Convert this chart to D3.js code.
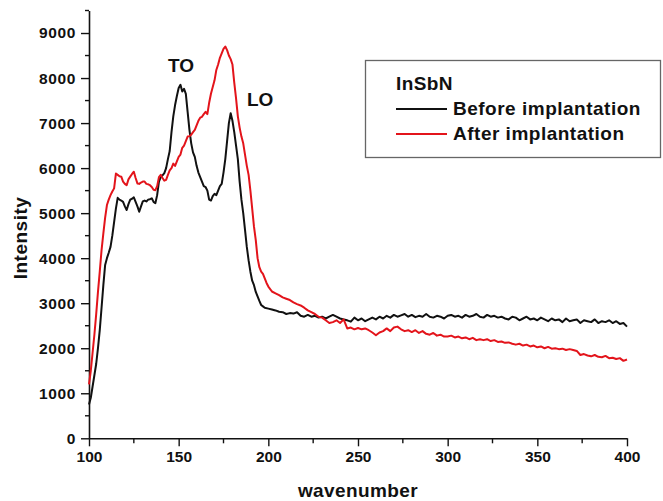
<!DOCTYPE html>
<html lang="en">
<head>
<meta charset="utf-8">
<title>InSbN Raman spectra</title>
<script src="https://cdn.jsdelivr.net/npm/d3@7"></script>
<style>
  body { margin: 0; background: #fff; }
  svg text { font-family: "Liberation Sans", Arial, sans-serif; font-weight: bold; fill: #111; }
</style>
</head>
<body>
<script>
// wavenumber / intensity
// 1 step from 100 to 198/199, then 2 steps to 400
const beforeX = d3.range(100, 199).concat(d3.range(200, 401, 2));
const beforeY = [
  750,900,1150,1400,1650,2000,2400,2900,3400,3850,      // 100-109
  4000,4120,4250,4500,4800,5100,5340,5300,5280,5250,    // 110-119
  5150,5070,5200,5300,5320,5350,5250,5150,5030,5150,    // 120-129
  5260,5280,5260,5300,5310,5330,5250,5220,5400,5700,    // 130-139
  5800,5840,5890,6000,6200,6380,6800,7150,7400,7600,    // 140-149
  7780,7850,7700,7760,7650,7250,6850,6550,6350,6250,    // 150-159
  6050,5900,5800,5700,5600,5580,5500,5300,5280,5380,    // 160-169
  5430,5400,5500,5600,5650,5900,6200,6600,7000,7220,    // 170-179
  7050,6800,6500,6200,5700,5300,5000,4630,4250,3950,    // 180-189
  3700,3500,3400,3250,3150,3050,2960,2930,2900,         // 190-198
  2880,2860,2840,2810,2800,2760,2780,2770,2800,2720,    // 200-218
  2700,2740,2700,2720,2680,2700,2660,2700,2740,2700,    // 220-238
  2660,2640,2620,2590,2680,2620,2660,2600,2640,2680,    // 240-258
  2640,2700,2660,2720,2680,2740,2700,2730,2760,2700,    // 260-278
  2740,2690,2720,2700,2760,2700,2680,2720,2700,2660,    // 280-298
  2720,2740,2700,2720,2680,2740,2700,2720,2760,2700,    // 300-318
  2680,2740,2700,2720,2680,2700,2660,2640,2700,2680,    // 320-338
  2620,2660,2700,2640,2660,2620,2680,2640,2600,2660,    // 340-358
  2620,2640,2580,2660,2600,2620,2640,2560,2620,2600,    // 360-378
  2580,2640,2560,2600,2580,2620,2560,2600,2540,2560,    // 380-398
  2480                                                  // 400
];

const afterX = d3.range(100, 200).concat(d3.range(200, 401, 2));
const afterY = [
  1200,1500,1900,2300,2750,3250,3700,4180,4550,4900,    // 100-109
  5180,5300,5400,5480,5550,5880,5850,5820,5810,5700,    // 110-119
  5650,5620,5750,5810,5870,5920,5780,5660,5650,5680,    // 120-129
  5700,5700,5650,5640,5620,5580,5520,5510,5600,5800,    // 130-139
  5850,5780,5720,5740,5850,5950,6000,6100,6050,6150,    // 140-149
  6250,6300,6450,6500,6600,6700,6710,6740,6800,6850,    // 150-159
  6950,7050,7120,7140,7200,7250,7200,7450,7650,7800,    // 160-169
  7950,8180,8300,8450,8550,8650,8700,8620,8500,8420,    // 170-179
  8300,7900,7550,7150,6900,6700,6550,6300,6050,5850,    // 180-189
  5500,5100,4700,4400,4000,3800,3700,3650,3550,3450,    // 190-199
  3370,3260,3220,3180,3130,3100,3070,3020,2980,2950,    // 200-218
  2900,2840,2800,2760,2700,2680,2620,2560,2580,2620,    // 220-238
  2560,2640,2440,2460,2420,2450,2420,2440,2400,2350,    // 240-258
  2290,2350,2380,2440,2380,2460,2480,2420,2380,2400,    // 260-278
  2360,2400,2340,2380,2320,2300,2340,2280,2300,2260,    // 280-298
  2260,2280,2240,2260,2220,2240,2200,2230,2180,2200,    // 300-318
  2180,2200,2160,2180,2140,2150,2120,2130,2100,2080,    // 320-338
  2100,2060,2080,2040,2060,2020,2040,2000,2030,1990,    // 340-358
  2000,1980,1990,1960,1980,1960,1940,1850,1870,1840,    // 360-378
  1820,1850,1810,1800,1830,1780,1790,1760,1780,1720,    // 380-398
  1750                                                  // 400
];

const xTicks = [100,150,200,250,300,350,400];
const yTicks = [0,1000,2000,3000,4000,5000,6000,7000,8000,9000];
const seriesNames = ["Before implantation","After implantation"];
const seriesColors = ["#111111","#e3141b"];

const width = 663, height = 501;
const svg = d3.select("body").append("svg")
    .attr("width", width)
    .attr("height", height);

const x = d3.scaleLinear().domain([100, 400]).range([89, 627]);
const y = d3.scaleLinear().domain([0, 9500]).range([438.3, 10.5]);

// minor ticks
const xMinor = d3.range(125, 400, 50);
const yMinor = d3.range(500, 9501, 1000);

const xAxis = svg.append("g")
    .attr("transform", "translate(0," + y(0) + ")")
    .call(d3.axisBottom(x).tickValues(xTicks).tickFormat(d3.format("d"))
        .tickSize(8).tickPadding(5).tickSizeOuter(0));
xAxis.append("g").selectAll("line").data(xMinor).enter().append("line")
    .attr("x1", d => x(d)).attr("x2", d => x(d))
    .attr("y1", 0).attr("y2", 5);
xAxis.selectAll(".tick text").style("font-size", "15.5px");

const yAxis = svg.append("g")
    .attr("transform", "translate(" + x(100) + ",0)")
    .call(d3.axisLeft(y).tickValues(yTicks).tickFormat(d3.format("d"))
        .tickSize(8).tickPadding(5).tickSizeOuter(0));
yAxis.append("g").selectAll("line").data(yMinor).enter().append("line")
    .attr("x1", 0).attr("x2", -4)
    .attr("y1", d => y(d)).attr("y2", d => y(d));
yAxis.selectAll(".tick text").style("font-size", "15.5px").style("letter-spacing", "0.6px");

svg.selectAll(".domain").attr("stroke", "#111").attr("stroke-width", 1.6);
svg.selectAll(".tick line, g > g > line").attr("stroke", "#111").attr("stroke-width", 1.4);
svg.selectAll(".tick text").attr("fill", "#111");

// curves
const line = d3.line()
    .x(d => x(d[0]))
    .y(d => y(d[1]));

const seriesData = [
    d3.zip(beforeX, beforeY),
    d3.zip(afterX, afterY)
];

seriesData.forEach((pts, i) => {
    svg.append("path")
        .datum(pts)
        .attr("d", line)
        .attr("fill", "none")
        .attr("stroke", seriesColors[i])
        .attr("stroke-width", 2)
        .attr("stroke-linejoin", "round");
});

// axis titles
svg.append("text")
    .attr("x", x(250))
    .attr("y", 497)
    .attr("text-anchor", "middle")
    .style("font-size", "19px")
    .style("letter-spacing", "0.4px")
    .text("wavenumber");

svg.append("text")
    .attr("transform", "translate(27,238) rotate(-90)")
    .attr("text-anchor", "middle")
    .style("font-size", "19px")
    .style("letter-spacing", "0.5px")
    .text("Intensity");

// peak labels
svg.append("text").attr("x", 168).attr("y", 72).style("font-size", "19px").text("TO");
svg.append("text").attr("x", 247).attr("y", 106).style("font-size", "19px").text("LO");

// legend
const legend = svg.append("g");
legend.append("rect")
    .attr("x", 365.5).attr("y", 60.5)
    .attr("width", 295).attr("height", 97)
    .attr("fill", "none")
    .attr("stroke", "#666")
    .attr("stroke-width", 1.3);
legend.append("text").attr("x", 396).attr("y", 90)
    .style("font-size", "19px").style("letter-spacing", "0.4px").text("InSbN");
seriesNames.forEach((name, i) => {
    const ly = 109 + i * 25;
    legend.append("line")
        .attr("x1", 396).attr("x2", 447)
        .attr("y1", ly).attr("y2", ly)
        .attr("stroke", seriesColors[i])
        .attr("stroke-width", 2);
    legend.append("text")
        .attr("x", 453).attr("y", ly + 6)
        .style("font-size", "19px")
        .style("letter-spacing", "0.5px")
        .text(name);
});
</script>
</body>
</html>
